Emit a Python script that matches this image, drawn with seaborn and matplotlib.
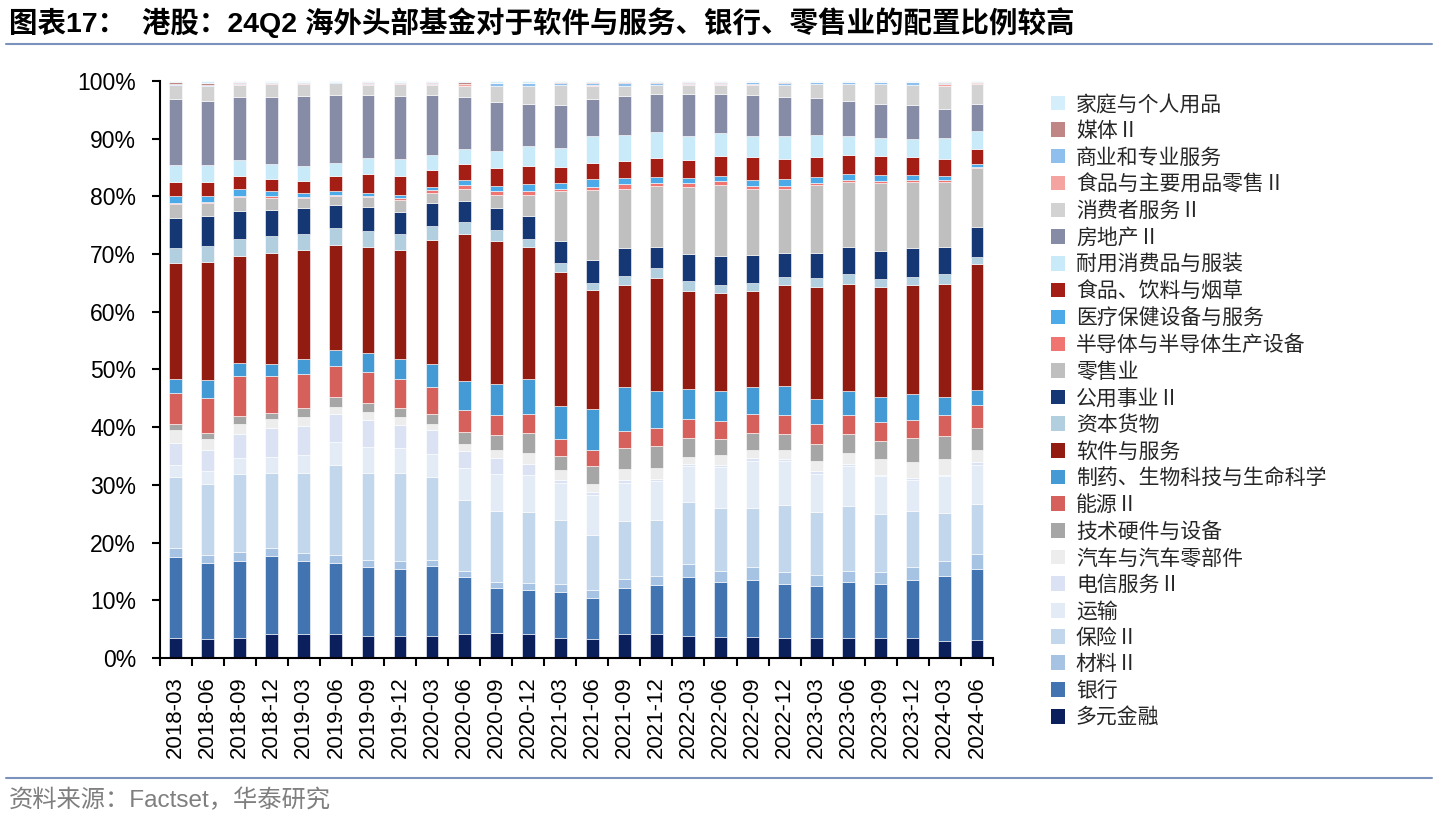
import pandas as pd
import numpy as np
import seaborn as sns
import matplotlib.pyplot as plt
from matplotlib.patches import Patch
from matplotlib.lines import Line2D
from matplotlib.ticker import PercentFormatter

sns.set_theme(style='ticks')
plt.rcParams['font.family'] = ['Liberation Sans', 'Noto Sans CJK SC', 'DejaVu Sans']

# Quarters on the x axis
periods = ['2018-03', '2018-06', '2018-09', '2018-12', '2019-03', '2019-06', '2019-09', '2019-12',
           '2020-03', '2020-06', '2020-09', '2020-12', '2021-03', '2021-06', '2021-09', '2021-12',
           '2022-03', '2022-06', '2022-09', '2022-12', '2023-03', '2023-06', '2023-09', '2023-12',
           '2024-03', '2024-06']

# Sector weights (%), bottom of the stack first
div_fin = [3.5, 3.3, 3.4, 4.1, 4.1, 4.2, 3.8, 3.8, 3.8, 4.1, 4.35, 4.1, 3.4, 3.3, 4.1, 4.1, 3.8, 3.65, 3.55, 3.4, 3.4, 3.4, 3.4, 3.4, 2.95, 3.05]
banks = [14.0, 13.1, 13.4, 13.5, 12.7, 12.3, 12.0, 11.6, 12.15, 9.95, 7.75, 7.65, 8.1, 7.1, 8.0, 8.5, 10.25, 9.55, 9.95, 9.4, 9.1, 9.8, 9.4, 10.1, 11.2, 12.35]
materials = [1.6, 1.4, 1.5, 1.5, 1.4, 1.3, 1.1, 1.4, 0.95, 1.05, 1.0, 1.25, 1.4, 1.35, 1.55, 1.55, 2.15, 1.8, 2.3, 2.05, 1.95, 1.8, 2.05, 2.3, 2.65, 2.55]
insurance = [12.3, 12.4, 13.5, 13.0, 13.9, 15.6, 15.2, 15.3, 14.5, 12.2, 12.3, 12.25, 11.0, 9.55, 10.05, 9.75, 10.9, 10.95, 10.2, 11.65, 10.8, 11.35, 10.05, 9.75, 8.3, 8.7]
transport = [2.0, 2.2, 2.8, 2.7, 3.0, 4.05, 4.4, 4.25, 4.0, 5.7, 6.4, 6.45, 6.4, 7.0, 6.6, 6.8, 6.25, 7.15, 8.15, 7.65, 6.7, 7.0, 6.6, 5.35, 6.4, 6.75]
telecom = [3.9, 3.7, 4.2, 5.1, 5.1, 4.9, 4.7, 3.95, 4.1, 2.9, 2.9, 1.9, 0.6, 0.4, 0.5, 0.4, 0.25, 0.3, 0.45, 0.35, 0.45, 0.25, 0.2, 0.35, 0.15, 0.5]
autos = [2.2, 1.9, 1.8, 1.6, 1.5, 1.2, 1.4, 1.4, 1.0, 1.1, 1.4, 1.95, 1.6, 1.4, 2.0, 1.8, 1.3, 1.7, 1.5, 1.6, 1.75, 2.0, 2.7, 2.75, 2.75, 2.2]
tech_hw = [1.0, 1.0, 1.3, 1.0, 1.6, 1.65, 1.6, 1.7, 1.85, 2.1, 2.6, 3.45, 2.5, 3.1, 3.55, 3.8, 3.3, 2.8, 2.85, 2.8, 3.0, 3.2, 3.2, 4.1, 4.0, 3.8]
energy = [5.4, 6.1, 7.0, 6.4, 6.0, 5.45, 5.4, 4.9, 4.55, 3.8, 3.4, 3.35, 2.9, 2.9, 2.95, 3.2, 3.2, 3.1, 3.4, 3.2, 3.45, 3.3, 3.3, 3.2, 3.7, 3.95]
pharma = [2.5, 3.0, 2.3, 2.1, 2.5, 2.7, 3.3, 3.5, 4.0, 5.1, 5.3, 6.05, 5.8, 7.0, 7.6, 6.3, 5.2, 5.2, 4.65, 5.05, 4.2, 4.1, 4.35, 4.4, 3.15, 2.65]
software = [20.1, 20.5, 18.5, 19.2, 18.85, 18.2, 18.3, 18.85, 21.5, 25.4, 24.8, 22.8, 23.2, 20.7, 17.75, 19.7, 17.0, 17.0, 16.6, 17.45, 19.5, 18.7, 19.05, 18.9, 19.65, 21.7]
cap_goods = [2.5, 2.75, 2.9, 2.9, 2.9, 2.9, 2.75, 2.75, 2.5, 2.1, 1.9, 1.5, 1.6, 1.2, 1.5, 1.7, 1.7, 1.4, 1.45, 1.4, 1.55, 1.6, 1.3, 1.4, 1.6, 1.3]
utilities = [5.3, 5.25, 4.9, 4.6, 4.4, 4.0, 4.25, 3.95, 3.95, 3.7, 3.95, 3.9, 3.8, 3.9, 4.85, 3.6, 4.8, 5.0, 4.85, 4.2, 4.35, 4.7, 4.9, 5.1, 4.7, 5.2]
retail = [2.4, 2.3, 2.4, 2.0, 1.8, 1.7, 1.7, 2.1, 1.75, 2.1, 2.2, 3.6, 8.6, 12.15, 10.3, 10.6, 11.5, 12.4, 11.4, 11.1, 11.8, 11.3, 11.9, 11.4, 11.3, 10.3]
semis = [0.2, 0.2, 0.25, 0.3, 0.1, 0.1, 0.25, 0.25, 0.45, 0.6, 0.7, 0.75, 0.4, 0.6, 0.8, 0.6, 0.75, 0.7, 0.5, 0.5, 0.3, 0.3, 0.3, 0.3, 0.3, 0.15]
health_eq = [1.2, 1.0, 1.05, 0.9, 0.8, 0.6, 0.5, 0.55, 0.55, 0.9, 0.85, 1.15, 1.1, 1.35, 1.1, 0.95, 0.9, 0.8, 1.0, 1.15, 1.05, 1.1, 1.05, 0.85, 0.7, 0.55]
food_bev = [2.4, 2.4, 2.3, 2.1, 2.1, 2.6, 3.25, 3.25, 3.0, 2.9, 3.1, 3.2, 2.7, 2.85, 2.9, 3.25, 3.0, 3.55, 4.0, 3.55, 3.45, 3.3, 3.2, 3.1, 2.9, 2.5]
durables = [2.9, 2.9, 2.8, 2.7, 2.5, 2.35, 2.75, 2.9, 2.5, 2.5, 3.0, 3.5, 3.35, 4.55, 4.6, 4.5, 4.25, 4.0, 3.7, 4.0, 3.9, 3.3, 3.25, 3.15, 3.65, 3.1]
real_estate = [11.4, 11.2, 10.9, 11.5, 12.2, 11.75, 10.95, 11.0, 10.5, 9.0, 8.4, 7.2, 7.4, 6.5, 6.65, 6.6, 7.2, 6.75, 7.1, 6.7, 6.35, 6.0, 5.8, 5.95, 5.1, 4.65]
consumer_svc = [2.45, 2.5, 2.05, 2.3, 2.1, 2.1, 1.7, 2.1, 1.7, 1.9, 2.8, 3.1, 3.4, 2.3, 1.75, 1.55, 1.6, 1.5, 1.7, 2.05, 2.35, 2.9, 3.4, 3.45, 4.05, 3.55]
food_retail = [0.1, 0.1, 0.3, 0.2, 0.15, 0.05, 0.2, 0.1, 0.2, 0.3, 0.1, 0.1, 0.1, 0.1, 0.05, 0.05, 0.2, 0.2, 0.2, 0.05, 0.05, 0.05, 0.05, 0.05, 0.35, 0.15]
commercial = [0.1, 0.1, 0.1, 0.05, 0.1, 0.1, 0.2, 0.2, 0.1, 0.1, 0.4, 0.4, 0.3, 0.3, 0.55, 0.4, 0.2, 0.2, 0.25, 0.4, 0.3, 0.3, 0.35, 0.4, 0.05, 0.05]
media = [0.4, 0.4, 0.1, 0.1, 0.1, 0.05, 0.1, 0.05, 0.2, 0.3, 0.1, 0.1, 0.1, 0.15, 0.05, 0.05, 0.1, 0.1, 0.05, 0.05, 0.05, 0.05, 0.0, 0.05, 0.2, 0.05]
household = [0.15, 0.3, 0.25, 0.15, 0.15, 0.1, 0.2, 0.15, 0.2, 0.2, 0.3, 0.3, 0.25, 0.25, 0.25, 0.25, 0.2, 0.2, 0.2, 0.25, 0.2, 0.2, 0.2, 0.2, 0.2, 0.25]

# label, values, colour -- in legend order (top of stack first)
sectors = [
    ('家庭与个人用品', household, '#D4EEFB'),
    ('媒体Ⅱ', media, '#C08686'),
    ('商业和专业服务', commercial, '#8FBFEC'),
    ('食品与主要用品零售Ⅱ', food_retail, '#F4A3A1'),
    ('消费者服务Ⅱ', consumer_svc, '#D2D2D2'),
    ('房地产Ⅱ', real_estate, '#868BA6'),
    ('耐用消费品与服装', durables, '#C9EAF9'),
    ('食品、饮料与烟草', food_bev, '#A41E16'),
    ('医疗保健设备与服务', health_eq, '#4DAAE9'),
    ('半导体与半导体生产设备', semis, '#F07470'),
    ('零售业', retail, '#BFBFBF'),
    ('公用事业Ⅱ', utilities, '#153774'),
    ('资本货物', cap_goods, '#B2CFDF'),
    ('软件与服务', software, '#921B12'),
    ('制药、生物科技与生命科学', pharma, '#449AD4'),
    ('能源Ⅱ', energy, '#D6605B'),
    ('技术硬件与设备', tech_hw, '#A6A6A6'),
    ('汽车与汽车零部件', autos, '#EDEDED'),
    ('电信服务Ⅱ', telecom, '#DAE2F4'),
    ('运输', transport, '#E2EBF6'),
    ('保险Ⅱ', insurance, '#C3D7EC'),
    ('材料Ⅱ', materials, '#A7C3E3'),
    ('银行', banks, '#4174B1'),
    ('多元金融', div_fin, '#0B1F5C'),
]

rows = []
for name, vals, _ in sectors:
    for p, v in zip(periods, vals):
        rows.append({'period': p, 'sector': name, 'share': v})
df = pd.DataFrame(rows)
hue_order = [s[0] for s in sectors]
palette = {s[0]: s[2] for s in sectors}

fig = plt.figure(figsize=(14.38, 8.24), dpi=100, facecolor='white')
ax = fig.add_axes([0.111, 0.2015, 0.5795, 0.7002])

# first hue level ends up on top of the stack
sns.histplot(data=df, x='period', hue='sector', weights='share', hue_order=hue_order,
             palette=palette, multiple='stack', discrete=True, shrink=0.4,
             alpha=1, edgecolor='white', linewidth=0.4, legend=False, ax=ax)

ax.set_xlim(-0.5, len(periods) - 0.5)
ax.set_ylim(0, 100)
ax.set_xlabel('')
ax.set_ylabel('')
ax.set_yticks(np.arange(0, 101, 10))
ax.yaxis.set_major_formatter(PercentFormatter(decimals=0))
ax.set_xticks(range(len(periods)))
ax.set_xticklabels(periods, rotation=90)
ax.set_xticks(np.arange(-0.5, len(periods), 1), minor=True)

ax.tick_params(axis='x', which='major', length=0, pad=13, labelsize=16, colors='black')
ax.tick_params(axis='x', which='minor', length=6, width=1.5, direction='out', color='black', bottom=True)
ax.tick_params(axis='y', which='major', length=6, width=1.5, direction='out', pad=11, labelsize=16.5, colors='black')
for side in ['top', 'right']:
    ax.spines[side].set_visible(False)
for side in ['left', 'bottom']:
    ax.spines[side].set_color('black')
    ax.spines[side].set_linewidth(1.5)

handles = [Patch(facecolor=c, edgecolor='none', label=n) for n, _, c in sectors]
fig.legend(handles=handles, loc='upper left', bbox_to_anchor=(0.725, 0.8955), frameon=False,
           fontsize=15, handlelength=0.7, handleheight=0.7, handletextpad=0.5,
           labelspacing=0.33, borderaxespad=0)

# title, rules and source
fig.text(0.006, 0.972, '图表17：  港股：24Q2 海外头部基金对于软件与服务、银行、零售业的配置比例较高',
         fontsize=20.5, fontweight='bold', va='center', ha='left', color='black')
fig.add_artist(Line2D([0.004, 0.996], [0.9466, 0.9466], color='#7B93BC', lw=1.5))
fig.add_artist(Line2D([0.004, 0.996], [0.0564, 0.0564], color='#7B93BC', lw=1.5))
fig.text(0.006, 0.029, '资料来源：Factset，华泰研究', fontsize=17.5, color='#7F7F7F', va='center', ha='left')

fig.savefig('out.png', dpi=100, facecolor='white')
